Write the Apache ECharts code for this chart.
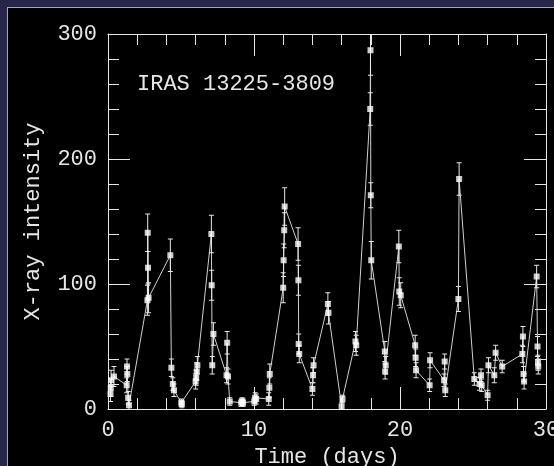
<!DOCTYPE html>
<html>
<head>
<meta charset="utf-8">
<script src="https://cdn.jsdelivr.net/npm/echarts@6/dist/echarts.min.js"></script>
<style>
  html, body { margin: 0; padding: 0; width: 554px; height: 466px; overflow: hidden; background: #27264a; }
  #frame { position: absolute; left: 7px; top: 7px; width: 547px; height: 459px; background: #000;
           border-left: 1px solid #a4a4bc; border-top: 1px solid #a4a4bc; }
  #chart { position: absolute; left: 0; top: 0; width: 554px; height: 466px; }
</style>
</head>
<body>
<div id="frame"></div>
<div id="chart"></div>
<script>
// Time (days)
const times = [
  0.17, 0.19, 0.21, 0.41,
  1.28, 1.30, 1.32, 1.38, 1.44,
  2.70, 2.72, 2.74, 2.78,
  4.27, 4.34, 4.44, 4.52,
  5.02, 5.06,
  6.00, 6.04, 6.08, 6.12,
  7.08, 7.10, 7.14, 7.22,
  8.12, 8.16, 8.22, 8.34,
  9.12, 9.19, 9.25,
  10.02, 10.08, 10.15,
  11.01, 11.05, 11.08,
  12.00, 12.03, 12.07, 12.10,
  13.02, 13.04, 13.06, 13.10,
  14.00, 14.04, 14.08,
  15.06, 15.10,
  16.00, 16.06,
  16.95, 17.00,
  17.96, 17.98, 18.00, 18.03,
  18.96, 18.98, 19.02,
  19.92, 19.95, 20.05,
  21.04, 21.07, 21.10,
  22.03, 22.06,
  23.02, 23.06, 23.10,
  24.00, 24.05,
  25.09, 25.45, 25.55, 25.60,
  26.00, 26.06, 26.46, 26.55,
  27.00,
  28.38, 28.42, 28.46, 28.50,
  29.36, 29.42, 29.45, 29.47
];
// X-ray intensity
const intensity = [
  12, 17, 23, 26,
  19, 34, 28, 9, 3,
  87, 141, 113, 89,
  123, 33, 20, 15,
  5, 4,
  22, 25, 30, 35,
  140, 99, 35, 60,
  27, 53, 26, 6,
  5, 6, 5,
  6, 9, 8,
  8, 17, 28,
  97, 119, 143, 162,
  132, 103, 52, 44,
  16, 27, 35,
  84, 77,
  2, 8,
  54, 51,
  240, 287, 171, 119,
  46, 30, 35,
  130, 94, 91,
  51, 41, 31,
  19, 39,
  23, 38, 15,
  88, 184,
  24, 20, 27, 19,
  11, 35, 27, 45,
  34,
  44, 58, 28, 22,
  106, 50, 37, 34
];
// 1-sigma errors
const errors = [
  6, 7, 8, 8,
  6, 6, 6, 5, 4,
  12, 15, 13, 12,
  13, 7, 5, 5,
  3, 3,
  6, 6, 7, 7,
  15, 12, 7, 9,
  6, 9, 6, 3,
  3, 3, 3,
  3, 4, 4,
  5, 8, 8,
  12, 13, 14, 15,
  13, 12, 8, 7,
  5, 6, 6,
  9, 9,
  3, 3,
  8, 8,
  13, 20, 10, 15,
  8, 6, 7,
  13, 11, 10,
  8, 7, 6,
  5, 6,
  5, 6, 5,
  10, 13,
  5, 5, 5, 5,
  4, 6, 6, 6,
  5,
  7, 8, 6, 6,
  9, 8, 6, 6
];
const xTicks = { min: 0, max: 30, interval: 10 };
const yTicks = { min: 0, max: 300, interval: 100 };

const points = times.map((t, i) => [t, intensity[i]]);
const bars = times.map((t, i) => [t, intensity[i] - errors[i], intensity[i] + errors[i]]);

const fg = '#e6e6e6';
const font = 'Liberation Mono';
const fs = 22;

function axisCommon(showLabel) {
  return {
    axisLine: { show: true, onZero: false, lineStyle: { color: fg, width: 1 } },
    axisTick: { show: true, inside: true, length: 22, lineStyle: { color: fg, width: 1 } },
    minorTick: { show: true, splitNumber: 5, length: 11, lineStyle: { color: fg, width: 1 } },
    splitLine: { show: false },
    axisLabel: { show: showLabel, color: fg, fontFamily: font, fontSize: fs }
  };
}

const chart = echarts.init(document.getElementById('chart'), null, { renderer: 'canvas' });
chart.setOption({
  backgroundColor: 'transparent',
  animation: false,
  grid: { left: 108, top: 34, width: 438, height: 375, containLabel: false, outerBoundsMode: 'none' },
  xAxis: [
    Object.assign(axisCommon(true), {
      type: 'value', position: 'bottom', min: xTicks.min, max: xTicks.max, interval: xTicks.interval,
      name: 'Time (days)', nameLocation: 'middle', nameGap: 26,
      nameTextStyle: { color: fg, fontFamily: font, fontSize: fs },
      axisLabel: { show: true, color: fg, fontFamily: font, fontSize: fs, margin: 10 }
    }),
    Object.assign(axisCommon(false), {
      type: 'value', position: 'top', min: xTicks.min, max: xTicks.max, interval: xTicks.interval
    })
  ],
  yAxis: [
    Object.assign(axisCommon(true), {
      type: 'value', position: 'left', min: yTicks.min, max: yTicks.max, interval: yTicks.interval,
      name: 'X-ray intensity', nameLocation: 'middle', nameGap: 64, nameRotate: 90,
      nameTextStyle: { color: fg, fontFamily: font, fontSize: fs },
      axisLabel: { show: true, color: fg, fontFamily: font, fontSize: fs, margin: 11 }
    }),
    Object.assign(axisCommon(false), {
      type: 'value', position: 'right', min: yTicks.min, max: yTicks.max, interval: yTicks.interval
    })
  ],
  graphic: [{
    type: 'text', left: 137, top: 73,
    style: { text: 'IRAS 13225-3809', fill: fg, font: fs + 'px "Liberation Mono"' }
  }],
  series: [
    {
      type: 'line', data: points, xAxisIndex: 0, yAxisIndex: 0,
      showSymbol: false, symbol: 'none',
      lineStyle: { color: '#d0d0d0', width: 1 }, clip: true, z: 2
    },
    {
      type: 'custom', data: bars, xAxisIndex: 0, yAxisIndex: 0, clip: true, z: 3,
      renderItem: function (params, api) {
        const x = api.value(0);
        const lo = api.coord([x, api.value(1)]);
        const hi = api.coord([x, api.value(2)]);
        const hw = 2.5;
        const st = { stroke: '#e8e8e8', lineWidth: 1 };
        return {
          type: 'group',
          children: [
            { type: 'line', shape: { x1: lo[0], y1: lo[1], x2: hi[0], y2: hi[1] }, style: st },
            { type: 'line', shape: { x1: lo[0] - hw, y1: lo[1], x2: lo[0] + hw, y2: lo[1] }, style: st },
            { type: 'line', shape: { x1: hi[0] - hw, y1: hi[1], x2: hi[0] + hw, y2: hi[1] }, style: st }
          ]
        };
      }
    },
    {
      type: 'scatter', data: points, xAxisIndex: 0, yAxisIndex: 0,
      symbol: 'rect', symbolSize: 6, itemStyle: { color: '#ffffff' }, clip: true, z: 4
    }
  ]
});
</script>
</body>
</html>
